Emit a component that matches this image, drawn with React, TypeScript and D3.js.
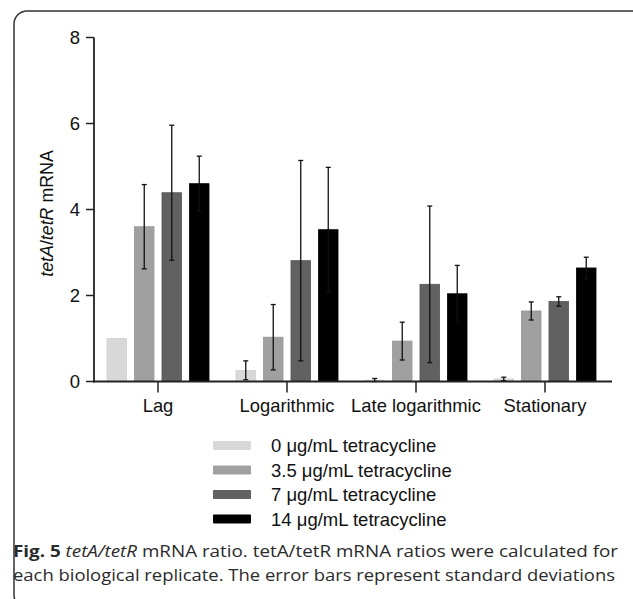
import React from 'react';
import * as d3 from 'd3';

const categories = ['Lag', 'Logarithmic', 'Late logarithmic', 'Stationary'];
const series = [
  '0 μg/mL tetracycline',
  '3.5 μg/mL tetracycline',
  '7 μg/mL tetracycline',
  '14 μg/mL tetracycline',
];
const colors = ['#d8d8d8', '#a0a0a0', '#616161', '#000000'];
const strokeColors = ['#cfcfcf', '#969696', '#555555', '#000000'];
const means = [
  [1.0, 0.26, 0.03, 0.06],
  [3.6, 1.03, 0.94, 1.64],
  [4.39, 2.81, 2.26, 1.86],
  [4.6, 3.53, 2.04, 2.64],
];
const sds = [
  [0, 0.22, 0.04, 0.04],
  [0.98, 0.76, 0.44, 0.21],
  [1.57, 2.33, 1.82, 0.11],
  [0.64, 1.45, 0.66, 0.25],
];
const yTicks = [0, 2, 4, 6, 8];

const W = 633;
const H = 599;
const axisFont = "'Liberation Sans', Arial, Helvetica, sans-serif";

export default function App() {
  const y = d3.scaleLinear().domain([0, 8]).range([381.5, 37.5]);
  const x = d3.scaleBand().domain(categories).range([93.5, 609.5]).paddingInner(0).paddingOuter(0);
  const xs = d3
    .scaleBand()
    .domain(series)
    .range([-55, 55])
    .paddingInner(0.29)
    .paddingOuter(0.145);

  const axisX0 = 94;
  const axisX1 = 612;
  const base = y(0);

  return (
    <svg
      width={W}
      height={H}
      viewBox={`0 0 ${W} ${H}`}
      style={{ position: 'absolute', left: 0, top: 0, background: '#fff' }}
    >
      <rect x={0} y={0} width={W} height={H} fill="#fff" />
      {/* frame */}
      <rect x={14} y={11} width={640} height={597} rx={13} ry={13} fill="none" stroke="#333" strokeWidth={1.5} />

      {/* bars */}
      {series.map((s, si) =>
        categories.map((c, ci) => {
          const cx = (x(c) as number) + x.bandwidth() / 2;
          const bx = cx + (xs(s) as number);
          const v = means[si][ci];
          return (
            <rect
              key={`b-${si}-${ci}`}
              x={bx}
              y={y(v)}
              width={xs.bandwidth()}
              height={base - y(v)}
              fill={colors[si]}
              stroke={strokeColors[si]}
              strokeWidth={0.8}
            />
          );
        })
      )}

      {/* error bars */}
      {series.map((s, si) =>
        categories.map((c, ci) => {
          const sd = sds[si][ci];
          if (!sd) return null;
          const cx = (x(c) as number) + x.bandwidth() / 2 + (xs(s) as number) + xs.bandwidth() / 2;
          const v = means[si][ci];
          const top = y(v + sd);
          const bot = y(Math.max(0, v - sd));
          return (
            <g key={`e-${si}-${ci}`} stroke="#111" strokeWidth={1.3}>
              <line x1={cx} x2={cx} y1={top} y2={bot} />
              <line x1={cx - 2.5} x2={cx + 2.5} y1={top} y2={top} />
              <line x1={cx - 2.5} x2={cx + 2.5} y1={bot} y2={bot} />
            </g>
          );
        })
      )}

      {/* y axis */}
      <line x1={axisX0} x2={axisX0} y1={y(8)} y2={base + 1} stroke="#222" strokeWidth={1.8} />
      {yTicks.map((t) => (
        <g key={`yt-${t}`}>
          <line x1={86} x2={axisX0} y1={y(t)} y2={y(t)} stroke="#222" strokeWidth={1.5} />
          <text
            x={80}
            y={y(t)}
            dy="0.36em"
            textAnchor="end"
            fontFamily={axisFont}
            fontSize={18.5}
            fill="#111"
          >
            {t}
          </text>
        </g>
      ))}
      <text
        transform={`translate(53,${(150 + 277) / 2}) rotate(-90)`}
        textAnchor="middle"
        fontFamily={axisFont}
        fontSize={17.8}
        fill="#111"
      >
        <tspan fontStyle="italic">tetA</tspan>
        <tspan>/</tspan>
        <tspan fontStyle="italic">tetR</tspan>
        <tspan> mRNA</tspan>
      </text>

      {/* x axis */}
      <line x1={axisX0 - 1} x2={axisX1} y1={base} y2={base} stroke="#222" strokeWidth={1.8} />
      {categories.map((c) => {
        const cx = (x(c) as number) + x.bandwidth() / 2;
        return (
          <g key={`xt-${c}`}>
            <line x1={cx} x2={cx} y1={base} y2={base + 11} stroke="#222" strokeWidth={1.5} />
            <text
              x={cx}
              y={412}
              textAnchor="middle"
              fontFamily={axisFont}
              fontSize={18.4}
              fill="#111"
            >
              {c}
            </text>
          </g>
        );
      })}

      {/* legend */}
      {series.map((s, i) => {
        const cy = 445.5 + i * 24.5;
        return (
          <g key={`lg-${i}`}>
            <rect x={213} y={cy - 4.5} width={38} height={9} rx={1} fill={colors[i]} />
            <text x={271} y={cy} dy="0.36em" fontFamily={axisFont} fontSize={18.5} fill="#111">
              {s}
            </text>
          </g>
        );
      })}

      {/* caption */}
      <text
        x={13}
        y={557}
        fontFamily="'Open Sans', sans-serif"
        fontSize={16}
        fill="#2a2a2a"
        textLength={605}
        lengthAdjust="spacingAndGlyphs"
      >
        <tspan fontWeight="bold">Fig. 5</tspan>
        <tspan> </tspan>
        <tspan fontStyle="italic">tetA/tetR</tspan>
        <tspan> mRNA ratio. tetA/tetR mRNA ratios were calculated for</tspan>
      </text>
      <text
        x={13}
        y={581}
        fontFamily="'Open Sans', sans-serif"
        fontSize={16}
        fill="#2a2a2a"
        textLength={602}
        lengthAdjust="spacingAndGlyphs"
      >
        each biological replicate. The error bars represent standard deviations
      </text>
    </svg>
  );
}
